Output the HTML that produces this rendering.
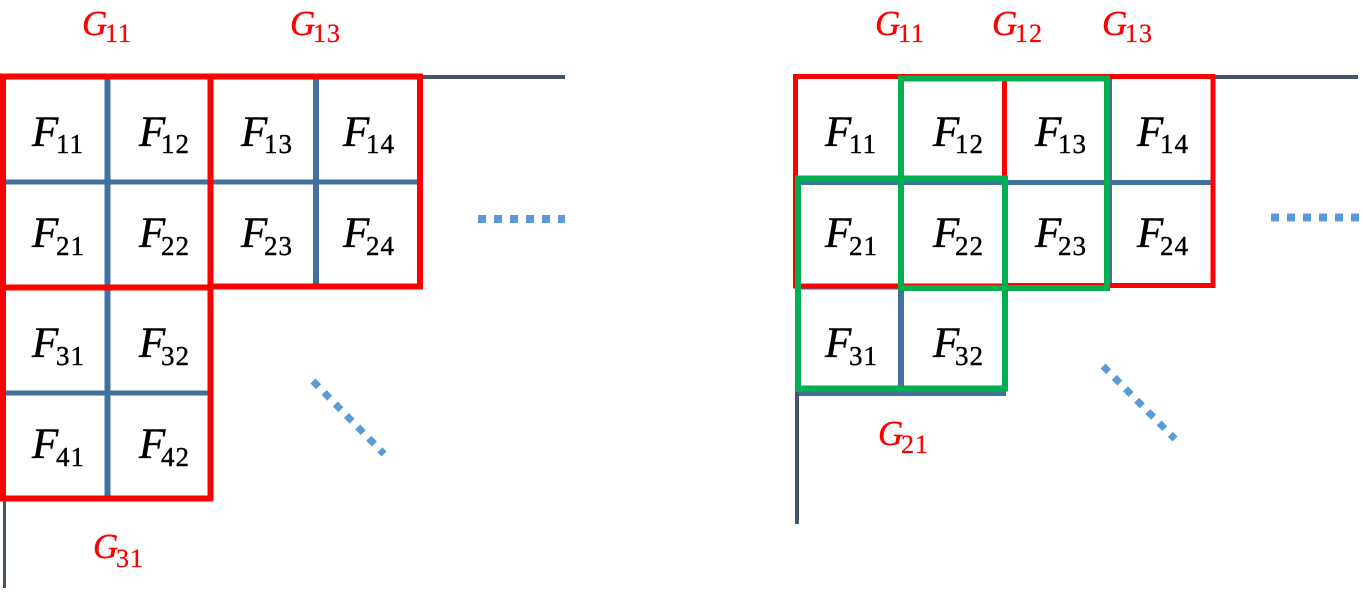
<!DOCTYPE html>
<html>
<head>
<meta charset="utf-8">
<style>
html,body{margin:0;padding:0;background:#fff;}
svg{display:block;}
.F{font-family:"Liberation Serif",serif;font-style:italic;font-size:43px;fill:#000;stroke:#000;stroke-width:0.5px;}
.Fs{font-family:"Liberation Serif",serif;font-size:27px;fill:#000;stroke:#000;stroke-width:0.4px;letter-spacing:1px;}
.G{font-family:"Liberation Serif",serif;font-style:italic;font-size:35px;fill:#ff0000;stroke:#ff0000;stroke-width:0.4px;}
.Gs{font-family:"Liberation Serif",serif;font-size:26px;fill:#ff0000;stroke:#ff0000;stroke-width:0.3px;letter-spacing:1px;}
</style>
</head>
<body>
<svg width="1363" height="592" viewBox="0 0 1363 592" xmlns="http://www.w3.org/2000/svg">
<!-- ===== LEFT DIAGRAM ===== -->
<g stroke="#41719C" stroke-width="6" fill="none">
  <line x1="107.5" y1="79" x2="107.5" y2="498"/>
  <line x1="316" y1="79" x2="316" y2="286"/>
</g>
<g stroke="#41719C" stroke-width="5" fill="none">
  <line x1="5" y1="182" x2="418" y2="182"/>
  <line x1="5" y1="393" x2="208" y2="393"/>
</g>
<line x1="420" y1="77" x2="565" y2="77" stroke="#44546A" stroke-width="4"/>
<line x1="4.5" y1="498" x2="4.5" y2="588" stroke="#44546A" stroke-width="3"/>
<g stroke="#ff0000" stroke-width="6" fill="none">
  <rect x="3" y="76.5" width="207.5" height="211"/>
  <rect x="210.5" y="76.5" width="209.5" height="210"/>
  <rect x="3" y="287.5" width="207.5" height="211"/>
</g>
<line x1="478" y1="219" x2="565" y2="219" stroke="#5B9BD5" stroke-width="8" stroke-dasharray="8 8"/>
<line x1="313" y1="381" x2="384" y2="454" stroke="#5B9BD5" stroke-width="7" stroke-dasharray="8 8"/>

<text class="G" x="82" y="35">G</text><text class="Gs" x="105" y="42">11</text>
<text class="G" x="290" y="35">G</text><text class="Gs" x="313" y="42">13</text>
<text class="G" x="93" y="558">G</text><text class="Gs" x="116" y="567">31</text>

<text class="F" x="32" y="146">F</text><text class="Fs" x="56" y="153">11</text>
<text class="F" x="139" y="146">F</text><text class="Fs" x="161" y="153">12</text>
<text class="F" x="241" y="146">F</text><text class="Fs" x="264" y="153">13</text>
<text class="F" x="343" y="146">F</text><text class="Fs" x="366" y="153">14</text>

<text class="F" x="32" y="247">F</text><text class="Fs" x="56" y="255">21</text>
<text class="F" x="139" y="247">F</text><text class="Fs" x="161" y="255">22</text>
<text class="F" x="241" y="247">F</text><text class="Fs" x="264" y="255">23</text>
<text class="F" x="343" y="247">F</text><text class="Fs" x="366" y="255">24</text>

<text class="F" x="32" y="357">F</text><text class="Fs" x="56" y="365">31</text>
<text class="F" x="139" y="357">F</text><text class="Fs" x="161" y="365">32</text>

<text class="F" x="32" y="458">F</text><text class="Fs" x="56" y="466">41</text>
<text class="F" x="139" y="458">F</text><text class="Fs" x="161" y="466">42</text>

<!-- ===== RIGHT DIAGRAM ===== -->
<g stroke="#41719C" stroke-width="6" fill="none">
  <line x1="901" y1="79" x2="901" y2="393"/>
  <line x1="1109" y1="79" x2="1109" y2="286"/>
</g>
<g stroke="#41719C" stroke-width="5" fill="none">
  <line x1="795" y1="182.5" x2="1212" y2="182.5"/>
  <line x1="795" y1="287" x2="1005" y2="287"/>
  <line x1="795" y1="393.5" x2="1006" y2="393.5"/>
</g>
<line x1="1213" y1="77" x2="1358" y2="77" stroke="#44546A" stroke-width="4"/>
<line x1="797" y1="392" x2="797" y2="524" stroke="#44546A" stroke-width="4"/>
<g stroke="#ff0000" stroke-width="5" fill="none">
  <rect x="795.5" y="76.5" width="209" height="209.5"/>
  <rect x="1004.5" y="76.5" width="208.5" height="209"/>
</g>
<g stroke="#00B050" stroke-width="6" fill="none">
  <rect x="901" y="78.5" width="206" height="209.5"/>
  <rect x="798" y="178.5" width="207" height="210"/>
</g>
<line x1="1271" y1="217.5" x2="1360" y2="217.5" stroke="#5B9BD5" stroke-width="8" stroke-dasharray="8 8"/>
<line x1="1103" y1="366" x2="1175" y2="439" stroke="#5B9BD5" stroke-width="7" stroke-dasharray="8 8"/>

<text class="G" x="875" y="35">G</text><text class="Gs" x="898" y="42">11</text>
<text class="G" x="992" y="35">G</text><text class="Gs" x="1015" y="42">12</text>
<text class="G" x="1102" y="35">G</text><text class="Gs" x="1125" y="42">13</text>
<text class="G" x="878" y="445">G</text><text class="Gs" x="901" y="453">21</text>

<text class="F" x="825" y="146">F</text><text class="Fs" x="849" y="153">11</text>
<text class="F" x="933" y="146">F</text><text class="Fs" x="955" y="153">12</text>
<text class="F" x="1035" y="146">F</text><text class="Fs" x="1058" y="153">13</text>
<text class="F" x="1137" y="146">F</text><text class="Fs" x="1160" y="153">14</text>

<text class="F" x="825" y="247">F</text><text class="Fs" x="849" y="255">21</text>
<text class="F" x="933" y="247">F</text><text class="Fs" x="955" y="255">22</text>
<text class="F" x="1035" y="247">F</text><text class="Fs" x="1058" y="255">23</text>
<text class="F" x="1137" y="247">F</text><text class="Fs" x="1160" y="255">24</text>

<text class="F" x="825" y="357">F</text><text class="Fs" x="849" y="365">31</text>
<text class="F" x="933" y="357">F</text><text class="Fs" x="955" y="365">32</text>
</svg>
</body>
</html>
